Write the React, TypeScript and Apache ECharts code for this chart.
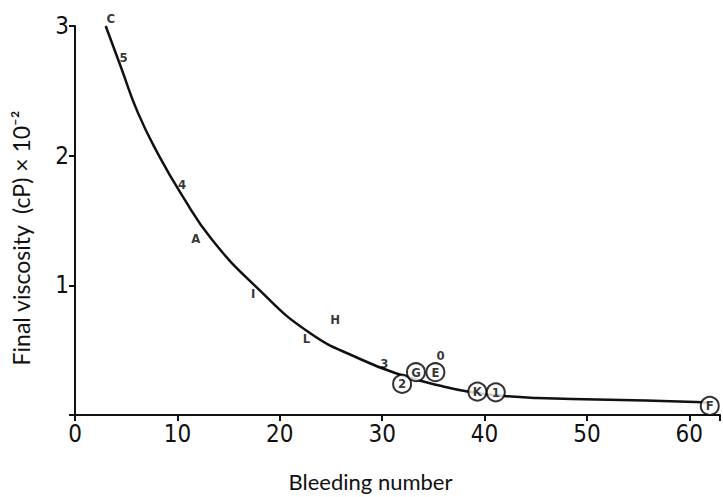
import React, { useEffect, useRef } from "react";
import * as echarts from "echarts";

// Fitted curve (bleeding number, viscosity ×10^-2)
const curveX = [3.0, 4.5, 6.15, 8.2, 10.41, 13.41, 17.67, 22.8, 27.9, 31.8, 35.7, 38.6, 41.9, 45.1, 50.9, 60.6, 61.9];
const curveY = [3.0, 2.68, 2.33, 2.0, 1.7, 1.35, 0.99, 0.64, 0.43, 0.31, 0.225, 0.178, 0.147, 0.132, 0.12, 0.1, 0.092];

// Labelled observations
const pointNames = ["C", "5", "4", "A", "I", "L", "H", "3", "0"];
const pointX = [3.5, 4.74, 10.45, 11.8, 17.4, 22.6, 25.4, 30.2, 35.7];
const pointY = [3.06, 2.76, 1.78, 1.36, 0.94, 0.59, 0.74, 0.4, 0.46];

// Circled observations
const circledNames = ["2", "G", "E", "K", "1", "F"];
const circledX = [31.95, 33.3, 35.2, 39.3, 41.1, 62.0];
const circledY = [0.24, 0.33, 0.33, 0.18, 0.175, 0.07];

const xTicks = [0, 10, 20, 30, 40, 50, 60];
const yTicks = [0, 1, 2, 3];

const xTitle = "Bleeding number";
const yTitle = "Final viscosity  (cP) × 10⁻²";

const FONT = "'Liberation Sans Narrow', 'DejaVu Sans Condensed', sans-serif";
const TITLE_FONT = "Lato, 'Open Sans', sans-serif";

export default function App() {
  const ref = useRef<HTMLDivElement>(null);
  useEffect(() => {
    if (!ref.current) return;
    const chart = echarts.init(ref.current, undefined, { renderer: "svg" });
    chart.setOption({
      animation: false,
      backgroundColor: "#fff",
      grid: { left: 75, right: -2, top: 26, bottom: 76 },
      xAxis: {
        type: "value",
        min: 0,
        max: 63,
        interval: 10,
        splitLine: { show: false },
        axisLine: { show: true, lineStyle: { color: "#111", width: 2 } },
        axisTick: { show: true, length: 6, lineStyle: { color: "#111", width: 2 } },
        axisLabel: {
          color: "#111",
          fontFamily: FONT,
          fontSize: 24,
          margin: 7,
          formatter: (v: number) => (xTicks.includes(v) ? String(v) : ""),
        },
        name: xTitle,
        nameLocation: "middle",
        nameGap: 55,
        nameTextStyle: { color: "#111", fontFamily: TITLE_FONT, fontSize: 22, padding: [0, 54, 0, 0] },
      },
      yAxis: {
        type: "value",
        min: 0,
        max: 3,
        interval: 1,
        splitLine: { show: false },
        axisLine: { show: true, lineStyle: { color: "#111", width: 2 } },
        axisTick: { show: true, length: 6, lineStyle: { color: "#111", width: 2 } },
        axisLabel: {
          color: "#111",
          fontFamily: FONT,
          fontSize: 24,
          margin: 6,
          formatter: (v: number) => (yTicks.includes(v) && v !== 0 ? String(v) : ""),
        },
      },
      graphic: [
        {
          type: "text",
          x: 21,
          y: 238,
          rotation: Math.PI / 2,
          style: {
            text: yTitle,
            fill: "#111",
            font: `23px ${TITLE_FONT}`,
            textAlign: "center",
            textVerticalAlign: "middle",
          },
        },
      ],
      series: [
        {
          type: "line",
          data: curveX.map((x, i) => [x, curveY[i]]),
          smooth: 0.5,
          showSymbol: false,
          symbol: "none",
          lineStyle: { color: "#111", width: 2.5 },
          z: 2,
        },
        {
          type: "scatter",
          clip: false,
          data: pointX.map((x, i) => ({ value: [x, pointY[i]], name: pointNames[i] })),
          symbolSize: 0,
          label: {
            show: true,
            position: "inside",
            formatter: (p: any) => p.name,
            color: "#000",
            fontFamily: FONT,
            fontWeight: "bold",
            fontSize: 13,
          },
          z: 3,
        },
        {
          type: "scatter",
          clip: false,
          data: circledX.map((x, i) => ({ value: [x, circledY[i]], name: circledNames[i] })),
          symbol: "circle",
          symbolSize: 18,
          itemStyle: { color: "#fff", borderColor: "#000", borderWidth: 2 },
          label: {
            show: true,
            position: "inside",
            formatter: (p: any) => p.name,
            color: "#000",
            fontFamily: FONT,
            fontWeight: "bold",
            fontSize: 13,
          },
          z: 4,
        },
      ],
    });
    return () => chart.dispose();
  }, []);
  return <div ref={ref} style={{ width: 723, height: 497, position: "fixed", left: 0, top: 0 }} />;
}
